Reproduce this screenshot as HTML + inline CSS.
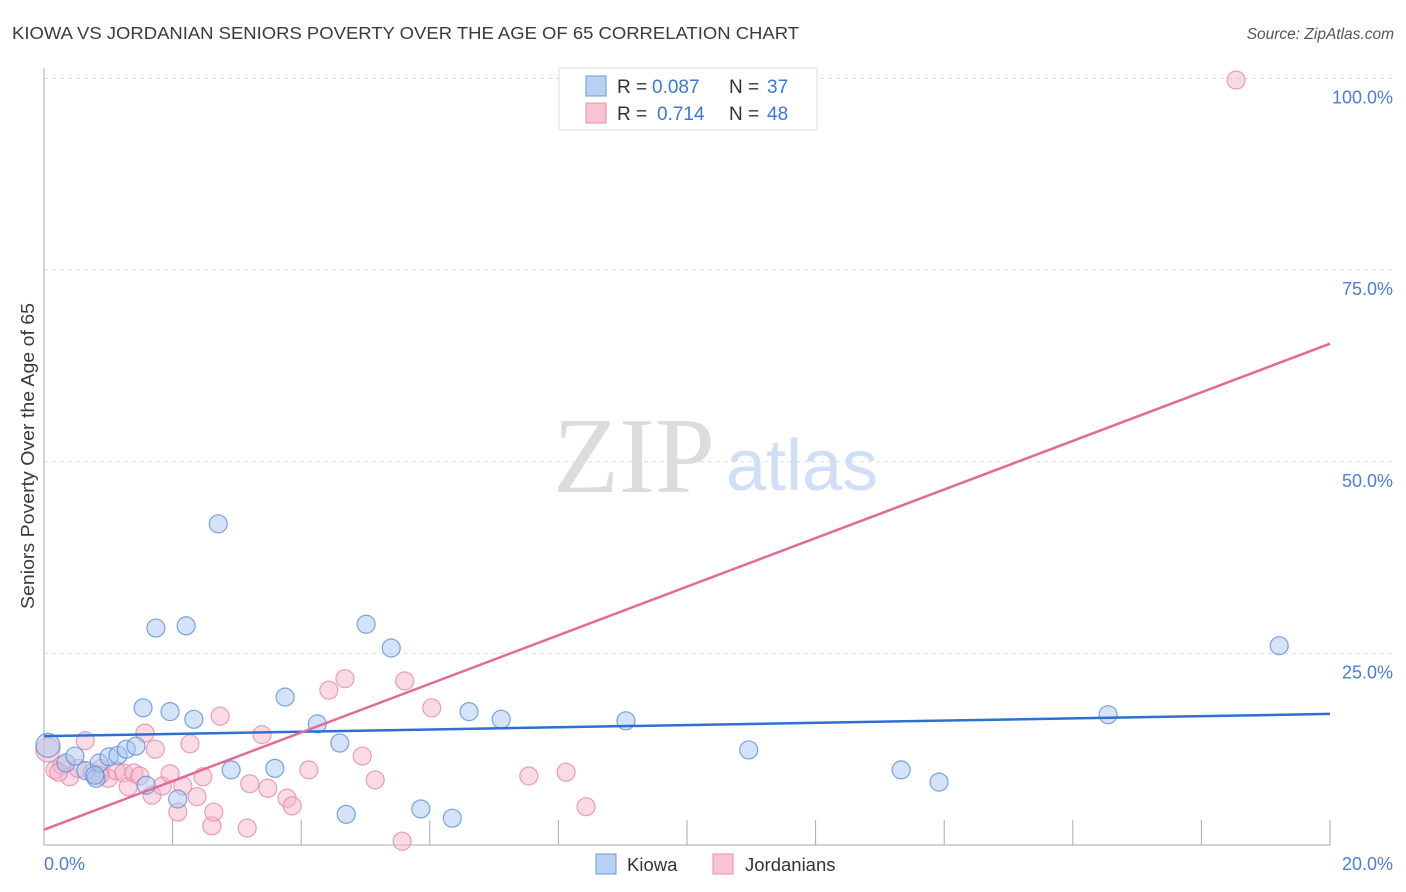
<!DOCTYPE html>
<html><head><meta charset="utf-8"><style>
body{margin:0;background:#fff;font-family:"Liberation Sans",sans-serif;}
svg{display:block}
</style></head><body>
<svg id="chart" width="1406" height="892">
<text x="12" y="39" font-size="17.5" fill="#3a3a3a" textLength="787" lengthAdjust="spacingAndGlyphs">KIOWA VS JORDANIAN SENIORS POVERTY OVER THE AGE OF 65 CORRELATION CHART</text>
<text x="1394" y="39" font-size="15.5" font-style="italic" fill="#555" text-anchor="end">Source: ZipAtlas.com</text>
<text transform="translate(34,456) rotate(-90)" font-size="18" fill="#3a3a3a" text-anchor="middle" textLength="306" lengthAdjust="spacingAndGlyphs">Seniors Poverty Over the Age of 65</text>
<g>
<text x="634" y="492" font-family="Liberation Serif,serif" font-size="108" fill="#dcdcdc" text-anchor="middle">ZIP</text>
<text x="802" y="490" font-size="72" fill="#cfdff5" text-anchor="middle">atlas</text>
</g>
<g id="grid"></g><g id="axes"></g><g id="marks"></g>
<g>
<rect x="559" y="68" width="258" height="62" fill="#fff" stroke="#ddd"/>
<rect x="586" y="76" width="20" height="20" fill="#b9d2f3" stroke="#6b9ae0"/>
<text x="617" y="93" font-size="19" fill="#333">R =</text>
<text x="652" y="93" font-size="19" fill="#3a78d6">0.087</text>
<text x="729" y="93" font-size="19" fill="#333">N =</text>
<text x="767" y="93" font-size="19" fill="#3a78d6">37</text>
<rect x="586" y="103" width="20" height="20" fill="#f8c4d4" stroke="#e891ad"/>
<text x="617" y="120" font-size="19" fill="#333">R =</text>
<text x="657" y="120" font-size="19" fill="#3a78d6">0.714</text>
<text x="729" y="120" font-size="19" fill="#333">N =</text>
<text x="767" y="120" font-size="19" fill="#3a78d6">48</text>
</g>
<g>
<rect x="596" y="854" width="20" height="20" fill="#b9d2f3" stroke="#6b9ae0"/>
<text x="627" y="871" font-size="18.5" fill="#333">Kiowa</text>
<rect x="713" y="854" width="20" height="20" fill="#f8c4d4" stroke="#e891ad"/>
<text x="745" y="871" font-size="18.5" fill="#333">Jordanians</text>
</g>
</svg>
<script>
const yTicks=[25,50,75,100];
const yTickLabels=["25.0%","50.0%","75.0%","100.0%"];
const xTicks=[2,4,6,8,10,12,14,16,18,20];
const kiowaX=[0.06,0.34,0.48,0.65,0.81,0.86,1.01,1.15,1.28,1.43,1.59,1.74,1.54,1.96,2.08,2.21,2.33,2.71,2.91,3.59,3.75,4.25,4.60,4.70,5.01,5.40,5.86,6.35,6.61,7.11,9.05,10.96,13.33,13.92,16.55,19.21,0.79];
const kiowaY=[13.0,10.7,11.6,9.7,8.7,10.7,11.5,11.7,12.5,12.9,7.8,28.3,17.9,17.4,6.0,28.6,16.4,41.9,9.8,10.0,19.3,15.8,13.3,4.0,28.8,25.7,4.7,3.5,17.4,16.4,16.2,12.4,9.8,8.2,17.0,26.0,9.1];
const jordX=[0.06,0.17,0.28,0.40,0.53,0.64,0.75,0.89,1.00,1.12,1.24,1.31,1.40,1.49,1.57,1.68,1.73,1.84,1.96,2.08,2.16,2.27,2.38,2.47,2.61,2.64,2.74,3.16,3.20,3.39,3.48,3.78,3.86,4.12,4.43,4.68,4.95,5.15,5.61,6.03,5.57,7.54,8.12,8.43,18.54,0.23,0.87];
const jordY=[12.4,9.8,10.4,8.9,10.0,13.6,9.4,10.0,8.7,9.7,9.4,7.6,9.4,9.0,14.6,6.5,12.5,7.7,9.3,4.3,7.7,13.2,6.3,8.9,2.5,4.3,16.8,2.2,8.0,14.4,7.4,6.1,5.1,9.8,20.2,21.7,11.6,8.5,21.4,17.9,0.5,9.0,9.5,5.0,99.8,9.5,9.1];
const kiowaTrend=[14.2,17.1];
const jordTrend=[2.0,65.4];
const NS="http://www.w3.org/2000/svg";
const X=v=>44+v/20*1286, Y=v=>845-v/100*766.5;
function mk(t,a,p){const e=document.createElementNS(NS,t);for(const k in a)e.setAttribute(k,a[k]);p.appendChild(e);return e;}
const grid=document.getElementById('grid'),axes=document.getElementById('axes'),marks=document.getElementById('marks');
yTicks.forEach((v,i)=>{
 const l=mk('line',{x1:44,x2:1393,y1:Y(v),y2:Y(v),stroke:'#ddd','stroke-dasharray':'4,4'},grid);
 
 
 const t=mk('text',{x:1393,y:Y(v)+25,'font-size':18,fill:'#4a7fd4','text-anchor':'end'},grid);
 t.textContent=yTickLabels[i];
 
 
});
mk('line',{x1:44,x2:44,y1:68,y2:845,stroke:'#aaa'},axes);
mk('line',{x1:44,x2:1330,y1:845,y2:845,stroke:'#aaa'},axes);
xTicks.forEach(v=>{
 const l=mk('line',{x1:X(v),x2:X(v),y1:820,y2:845,stroke:'#aaa'},axes);
 
 
});
const x0=mk('text',{x:44,y:870,'font-size':18,fill:'#4a7fd4'},axes);x0.textContent='0.0%';


const x1=mk('text',{x:1393,y:870,'font-size':18,fill:'#4a7fd4','text-anchor':'end'},axes);x1.textContent='20.0%';


function pts(xs,ys,fill,stroke,name){
 xs.forEach((x,i)=>{
  const c=mk('circle',{cx:X(x),cy:Y(ys[i]),r:i===0?12:9,fill:fill,'fill-opacity':0.5,stroke:stroke,'stroke-opacity':0.8,'stroke-width':1.2},marks);
  
  
 });
}
pts(jordX,jordY,'#f6b6ca','#e68aa8','jordanian-point');
pts(kiowaX,kiowaY,'#a9c8f0','#5b8fd9','kiowa-point');
const tb=mk('line',{x1:X(0),x2:X(20),y1:Y(kiowaTrend[0]),y2:Y(kiowaTrend[1]),stroke:'#2f6fd1','stroke-width':2.5},marks);


const tp=mk('line',{x1:X(0),x2:X(20),y1:Y(jordTrend[0]),y2:Y(jordTrend[1]),stroke:'#e46a95','stroke-width':2.5},marks);


</script>
</body></html>
